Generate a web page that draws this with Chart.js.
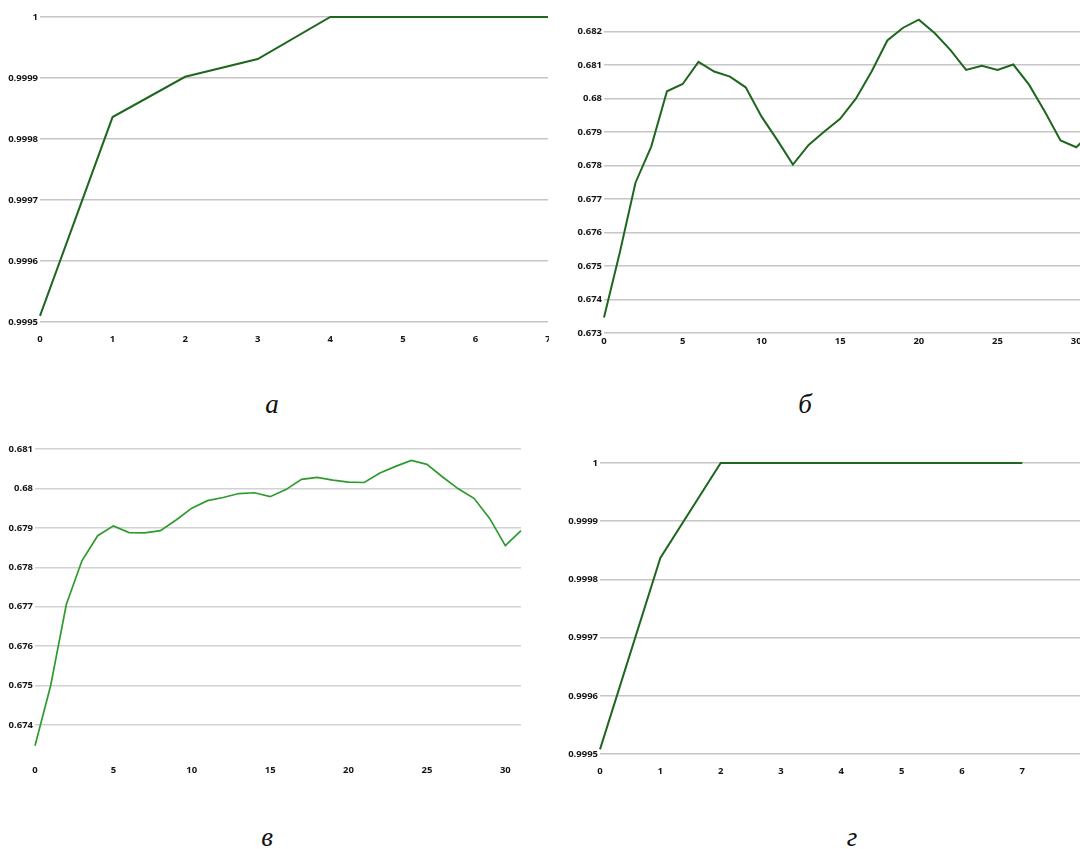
<!DOCTYPE html>
<html lang="ru">
<head>
  <meta charset="UTF-8">
  <title>Графики а–г</title>
  <script src="https://cdn.jsdelivr.net/npm/chart.js"></script>
  <style>
    html, body { margin: 0; padding: 0; background: #fff; }
    body { width: 1080px; height: 849px; position: relative; overflow: hidden; }
    .panel { position: absolute; overflow: hidden; }
    .panel > div { position: absolute; left: 0; top: 0; }
    .cap {
      position: absolute;
      width: 40px;
      text-align: center;
      font-family: 'Liberation Serif', 'DejaVu Serif', serif;
      font-style: italic;
      font-size: 27px;
      line-height: 26px;
      color: #111;
    }
  </style>
</head>
<body>
  <!-- а -->
  <div class="panel" style="left:0;top:0;width:549px;height:370px">
    <div style="width:573px;height:350px"><canvas id="chartA"></canvas></div>
  </div>
  <!-- б -->
  <div class="panel" style="left:560px;top:0;width:520px;height:370px">
    <div style="width:557px;height:361px"><canvas id="chartB"></canvas></div>
  </div>
  <!-- в -->
  <div class="panel" style="left:0;top:430px;width:540px;height:370px">
    <div style="width:546px;height:347px"><canvas id="chartC"></canvas></div>
  </div>
  <!-- г -->
  <div class="panel" style="left:560px;top:430px;width:520px;height:370px">
    <div style="width:608px;height:352px"><canvas id="chartD"></canvas></div>
  </div>

  <div class="cap" style="left:252px;top:391px">а</div>
  <div class="cap" style="left:785px;top:391px">б</div>
  <div class="cap" style="left:247px;top:824px">в</div>
  <div class="cap" style="left:832px;top:824px">г</div>

  <script>
    // а
    const xA = [0, 1, 2, 3, 4, 5, 6, 7];
    const valuesA = [0.99951, 0.999836, 0.999902, 0.999931, 1, 1, 1, 1];
    const xTicksA = [0, 1, 2, 3, 4, 5, 6, 7];
    const yTicksA = [0.9995, 0.9996, 0.9997, 0.9998, 0.9999, 1];

    // б
    const xB = [0, 1, 2, 3, 4, 5, 6, 7, 8, 9, 10, 11, 12, 13, 14, 15, 16, 17, 18, 19, 20, 21, 22, 23, 24, 25, 26, 27, 28, 29, 30, 31];
    const valuesB = [0.67346, 0.6754, 0.67749, 0.67857, 0.68022, 0.68044, 0.6811, 0.68081, 0.68066, 0.68034,
      0.67947, 0.67877, 0.67803, 0.67862, 0.67902, 0.6794, 0.68, 0.68081, 0.68174, 0.68212,
      0.68236, 0.68196, 0.68146, 0.68086, 0.68098, 0.68086, 0.68102, 0.68042, 0.67962, 0.67875,
      0.67855, 0.679];
    const xTicksB = [0, 5, 10, 15, 20, 25, 30];
    const yTicksB = [0.673, 0.674, 0.675, 0.676, 0.677, 0.678, 0.679, 0.68, 0.681, 0.682];

    // в
    const xC = [0, 1, 2, 3, 4, 5, 6, 7, 8, 9, 10, 11, 12, 13, 14, 15, 16, 17, 18, 19, 20, 21, 22, 23, 24, 25, 26, 27, 28, 29, 30, 31];
    const valuesC = [0.67347, 0.675, 0.67706, 0.67817, 0.6788, 0.67905, 0.67888, 0.67887, 0.67893, 0.6792,
      0.6795, 0.67969, 0.67977, 0.67987, 0.67989, 0.67979, 0.67997, 0.68023, 0.68028, 0.68021,
      0.68016, 0.68015, 0.68039, 0.68056, 0.68071, 0.68061, 0.68029, 0.67999, 0.67975, 0.67924,
      0.67855, 0.67893];
    const xTicksC = [0, 5, 10, 15, 20, 25, 30];
    const yTicksC = [0.674, 0.675, 0.676, 0.677, 0.678, 0.679, 0.68, 0.681];

    // г
    const xD = [0, 1, 2, 3, 4, 5, 6, 7];
    const valuesD = [0.999508, 0.999837, 1, 1, 1, 1, 1, 1];
    const xTicksD = [0, 1, 2, 3, 4, 5, 6, 7, 8, 9];
    const yTicksD = [0.9995, 0.9996, 0.9997, 0.9998, 0.9999, 1];

    const tickFont = { family: "'Open Sans', 'Noto Sans', sans-serif", size: 9.5, weight: '700' };
    const fmt = v => String(parseFloat(Number(v).toFixed(5)));

    function makeChart(id, o) {
      const points = o.xs.map((x, i) => ({ x: x, y: o.ys[i] }));
      return new Chart(document.getElementById(id), {
        type: 'line',
        data: {
          datasets: [{
            data: points,
            borderColor: o.color,
            borderWidth: o.lineW,
            pointRadius: 0,
            tension: 0,
            fill: false,
            clip: false // flat part sits on the top edge, don't cut it in half
          }]
        },
        options: {
          responsive: true,
          maintainAspectRatio: false,
          animation: false,
          events: [],
          // right padding is wider than tick padding + half label so plot width stays fixed
          layout: { padding: { top: o.padTop, right: 25, left: 0, bottom: 0 } },
          plugins: { legend: { display: false }, tooltip: { enabled: false } },
          scales: {
            x: {
              type: 'linear',
              min: o.xMin,
              max: o.xMax,
              grid: { display: false, drawTicks: false },
              border: { display: false },
              afterBuildTicks: s => { s.ticks = o.xTicks.map(v => ({ value: v })); },
              afterFit: s => { s.height = o.xAxisH; },
              ticks: { padding: o.xPad, color: '#151515', font: tickFont, maxRotation: 0, autoSkip: false, callback: fmt }
            },
            y: {
              min: o.yMin,
              max: o.yMax,
              grid: { color: o.gridColor, lineWidth: 1.5, drawTicks: false },
              border: { display: false },
              afterBuildTicks: s => { s.ticks = o.yTicks.map(v => ({ value: v })); },
              afterFit: s => { s.width = o.yAxisW; },
              ticks: { padding: 2, color: '#151515', font: tickFont, autoSkip: false, callback: fmt }
            }
          }
        }
      });
    }

    makeChart('chartA', {
      xs: xA, ys: valuesA, xTicks: xTicksA, yTicks: yTicksA,
      xMin: 0, xMax: 7, yMin: 0.9995, yMax: 1,
      color: '#1f661f', lineW: 2, gridColor: '#c6c6c6',
      padTop: 17, xAxisH: 28, yAxisW: 40, xPad: 12
    });

    makeChart('chartB', {
      xs: xB, ys: valuesB, xTicks: xTicksB, yTicks: yTicksB,
      xMin: 0, xMax: 31, yMin: 0.673, yMax: 0.6825,
      color: '#1f661f', lineW: 2, gridColor: '#c6c6c6',
      padTop: 15, xAxisH: 28, yAxisW: 44, xPad: 3
    });

    makeChart('chartC', {
      xs: xC, ys: valuesC, xTicks: xTicksC, yTicks: yTicksC,
      xMin: 0, xMax: 31, yMin: 0.67344, yMax: 0.681,
      color: '#2f9a2f', lineW: 1.7, gridColor: '#d2d2d2',
      padTop: 19, xAxisH: 30, yAxisW: 35, xPad: 18
    });

    makeChart('chartD', {
      xs: xD, ys: valuesD, xTicks: xTicksD, yTicks: yTicksD,
      xMin: 0, xMax: 9, yMin: 0.9995, yMax: 1,
      color: '#1f661f', lineW: 2, gridColor: '#c6c6c6',
      padTop: 33, xAxisH: 28, yAxisW: 40, xPad: 12
    });
  </script>
</body>
</html>
